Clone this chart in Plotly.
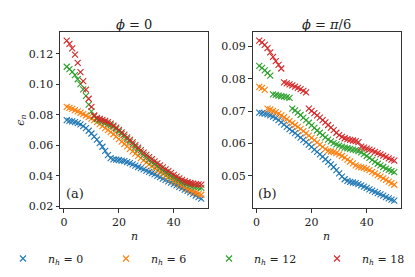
import plotly.graph_objects as go

n = list(range(1, 51))

# phi = 0 panel
a_nh0 = [0.0765, 0.0760, 0.0757, 0.0752, 0.0745, 0.0737, 0.0726, 0.0712, 0.0695, 0.0677,
         0.0657, 0.0637, 0.0614, 0.0590, 0.0563, 0.0535, 0.0515, 0.0507, 0.0505, 0.0503,
         0.0499, 0.0495, 0.0489, 0.0482, 0.0474, 0.0466, 0.0457, 0.0449, 0.0441, 0.0433,
         0.0425, 0.0417, 0.0408, 0.0399, 0.0390, 0.0381, 0.0372, 0.0363, 0.0354, 0.0345,
         0.0336, 0.0327, 0.0318, 0.0309, 0.0300, 0.0290, 0.0280, 0.0270, 0.0260, 0.0250]
a_nh6 = [0.0852, 0.0845, 0.0838, 0.0830, 0.0822, 0.0813, 0.0804, 0.0795, 0.0785, 0.0775,
         0.0765, 0.0752, 0.0738, 0.0725, 0.0712, 0.0699, 0.0686, 0.0672, 0.0656, 0.0640,
         0.0624, 0.0608, 0.0592, 0.0576, 0.0560, 0.0545, 0.0530, 0.0515, 0.0501, 0.0487,
         0.0474, 0.0461, 0.0449, 0.0437, 0.0425, 0.0413, 0.0401, 0.0389, 0.0377, 0.0365,
         0.0354, 0.0343, 0.0333, 0.0323, 0.0313, 0.0304, 0.0296, 0.0288, 0.0281, 0.0275]
a_nh12 = [0.1115, 0.1100, 0.1082, 0.1060, 0.1033, 0.1001, 0.0966, 0.0924, 0.0866, 0.0822,
          0.0790, 0.0772, 0.0762, 0.0755, 0.0748, 0.0740, 0.0731, 0.0720, 0.0706, 0.0690,
          0.0674, 0.0657, 0.0640, 0.0623, 0.0606, 0.0589, 0.0572, 0.0553, 0.0536, 0.0520,
          0.0505, 0.0491, 0.0477, 0.0463, 0.0450, 0.0437, 0.0424, 0.0412, 0.0400, 0.0389,
          0.0378, 0.0368, 0.0359, 0.0351, 0.0344, 0.0338, 0.0333, 0.0328, 0.0324, 0.0320]
a_nh18 = [0.1287, 0.1265, 0.1235, 0.1195, 0.1140, 0.1080, 0.1020, 0.0965, 0.0905, 0.0852,
          0.0795, 0.0780, 0.0772, 0.0766, 0.0759, 0.0751, 0.0741, 0.0729, 0.0715, 0.0700,
          0.0685, 0.0669, 0.0652, 0.0635, 0.0618, 0.0601, 0.0584, 0.0568, 0.0552, 0.0537,
          0.0522, 0.0508, 0.0494, 0.0481, 0.0468, 0.0455, 0.0442, 0.0430, 0.0418, 0.0406,
          0.0394, 0.0383, 0.0373, 0.0364, 0.0357, 0.0352, 0.0348, 0.0345, 0.0343, 0.0342]

# phi = pi/6 panel
b_nh0 = [0.0695, 0.0694, 0.0692, 0.0690, 0.0687, 0.0683, 0.0678, 0.0672, 0.0665, 0.0658,
         0.0651, 0.0644, 0.0638, 0.0632, 0.0625, 0.0618, 0.0611, 0.0604, 0.0596, 0.0589,
         0.0581, 0.0574, 0.0566, 0.0559, 0.0551, 0.0543, 0.0535, 0.0527, 0.0517, 0.0507,
         0.0497, 0.0489, 0.0484, 0.0481, 0.0479, 0.0477, 0.0474, 0.0470, 0.0466, 0.0462,
         0.0458, 0.0454, 0.0450, 0.0446, 0.0442, 0.0438, 0.0434, 0.0430, 0.0426, 0.0423]
b_nh6 = [0.0775, 0.0772, 0.0766, 0.0708, 0.0705, 0.0701, 0.0697, 0.0692, 0.0687, 0.0681,
         0.0675, 0.0669, 0.0663, 0.0657, 0.0651, 0.0645, 0.0638, 0.0631, 0.0624, 0.0617,
         0.0610, 0.0603, 0.0596, 0.0589, 0.0582, 0.0577, 0.0575, 0.0573, 0.0570, 0.0566,
         0.0561, 0.0556, 0.0550, 0.0544, 0.0538, 0.0532, 0.0528, 0.0526, 0.0524, 0.0521,
         0.0517, 0.0512, 0.0507, 0.0502, 0.0497, 0.0492, 0.0487, 0.0482, 0.0477, 0.0472]
b_nh12 = [0.0840, 0.0834, 0.0826, 0.0818, 0.0810, 0.0752, 0.0750, 0.0748, 0.0746, 0.0745,
          0.0743, 0.0741, 0.0708, 0.0702, 0.0695, 0.0688, 0.0680, 0.0672, 0.0664, 0.0656,
          0.0648, 0.0640, 0.0633, 0.0626, 0.0619, 0.0612, 0.0606, 0.0601, 0.0597, 0.0593,
          0.0590, 0.0587, 0.0585, 0.0583, 0.0581, 0.0579, 0.0576, 0.0572, 0.0567, 0.0561,
          0.0555, 0.0549, 0.0543, 0.0537, 0.0532, 0.0527, 0.0522, 0.0518, 0.0514, 0.0511]
b_nh18 = [0.0918, 0.0913, 0.0905, 0.0895, 0.0882, 0.0868, 0.0855, 0.0843, 0.0832, 0.0789,
          0.0786, 0.0783, 0.0780, 0.0776, 0.0772, 0.0768, 0.0763, 0.0758, 0.0708, 0.0701,
          0.0694, 0.0687, 0.0680, 0.0672, 0.0665, 0.0657, 0.0649, 0.0641, 0.0633, 0.0626,
          0.0620, 0.0616, 0.0613, 0.0611, 0.0609, 0.0607, 0.0604, 0.0590, 0.0587, 0.0584,
          0.0581, 0.0578, 0.0574, 0.0570, 0.0566, 0.0562, 0.0558, 0.0554, 0.0550, 0.0547]

series_names = ["<i>n<sub>h</sub></i> = 0", "<i>n<sub>h</sub></i> = 6",
                "<i>n<sub>h</sub></i> = 12", "<i>n<sub>h</sub></i> = 18"]
colors = ["#1f77b4", "#ff7f0e", "#2ca02c", "#d62728"]
panel_a = [a_nh0, a_nh6, a_nh12, a_nh18]
panel_b = [b_nh0, b_nh6, b_nh12, b_nh18]
titles = ["<i>ϕ</i> = 0", "<i>ϕ</i> = <i>π</i>/6"]
panel_labels = ["(a)", "(b)"]
x_ticks = [0, 20, 40]
a_yticks = [0.02, 0.04, 0.06, 0.08, 0.10, 0.12]
b_yticks = [0.05, 0.06, 0.07, 0.08, 0.09]

FONT = "DejaVu Serif"
TXT = "#222"
W, H = 415, 277
ML, MR, MT, MB = 60, 0, 32, 69
PW, PH = W - ML - MR, H - MT - MB


def px_x(p):
    return (p - ML) / PW


def px_y(p):
    return (H - MB - p) / PH


legend_ids = ["legend", "legend2", "legend3", "legend4"]
legend_left_px = [-2, 101, 204, 312]

fig = go.Figure()
for i in range(4):
    mk = dict(symbol="x-thin", size=6, color=colors[i],
              line=dict(width=1.1, color=colors[i]))
    fig.add_trace(go.Scatter(x=n, y=panel_a[i], mode="markers", marker=mk,
                             name=series_names[i], xaxis="x", yaxis="y",
                             legend=legend_ids[i], legendgroup=str(i), showlegend=True))
    fig.add_trace(go.Scatter(x=n, y=panel_b[i], mode="markers", marker=mk,
                             name=series_names[i], xaxis="x2", yaxis="y2",
                             legend=legend_ids[i], legendgroup=str(i), showlegend=False))

axis_common = dict(showline=True, mirror=True, linecolor="#333", linewidth=1,
                   ticks="outside", ticklen=3.5, tickwidth=1, tickcolor="#333",
                   showgrid=False, zeroline=False,
                   tickfont=dict(family=FONT, size=11, color=TXT))

fig.update_layout(
    width=W, height=H,
    margin=dict(l=ML, r=MR, t=MT, b=MB, autoexpand=False),
    paper_bgcolor="white", plot_bgcolor="white",
    font=dict(family=FONT, size=11, color=TXT),
    xaxis=dict(domain=[0, px_x(208)], range=[-1.45, 52.45], tickvals=x_ticks, **axis_common),
    yaxis=dict(range=[0.0188, 0.1343], tickvals=a_yticks, tickformat=".2f", **axis_common),
    xaxis2=dict(domain=[px_x(252.5), px_x(401)], range=[-1.45, 52.45], tickvals=x_ticks,
                anchor="y2", **axis_common),
    yaxis2=dict(range=[0.0400, 0.0945], tickvals=b_yticks, tickformat=".2f",
                anchor="x2", **axis_common),
    showlegend=True,
)
for i, lid in enumerate(legend_ids):
    fig.update_layout({lid: dict(orientation="h", x=px_x(legend_left_px[i]), xanchor="left",
                                 y=px_y(258.5), yanchor="middle", itemwidth=40, borderwidth=0,
                                 font=dict(family=FONT, size=11, color=TXT),
                                 bgcolor="rgba(0,0,0,0)")})

annotations = []
centers_px = [134, 326.7]
for k in range(2):
    annotations.append(dict(text=titles[k], x=px_x(centers_px[k]), y=px_y(24), xref="paper",
                            yref="paper", xanchor="center", yanchor="middle", showarrow=False,
                            font=dict(family=FONT, size=13, color=TXT)))
    annotations.append(dict(text="<i>n</i>", x=px_x(centers_px[k]), y=px_y(236.5), xref="paper",
                            yref="paper", xanchor="center", yanchor="middle", showarrow=False,
                            font=dict(family=FONT, size=11, color=TXT)))
annotations.append(dict(text=panel_labels[0], x=px_x(64), y=px_y(193), xref="paper", yref="paper",
                        xanchor="left", yanchor="middle", showarrow=False,
                        font=dict(family=FONT, size=13, color=TXT)))
annotations.append(dict(text=panel_labels[1], x=px_x(256), y=px_y(193), xref="paper", yref="paper",
                        xanchor="left", yanchor="middle", showarrow=False,
                        font=dict(family=FONT, size=13, color=TXT)))
annotations.append(dict(text="<i>ϵ<sub>n</sub></i>", x=px_x(20.7), y=px_y(120), xref="paper",
                        yref="paper", xanchor="center", yanchor="middle", textangle=-90,
                        showarrow=False, font=dict(family=FONT, size=11, color=TXT)))
fig.update_layout(annotations=annotations)

fig.write_html("out.html", config={"displayModeBar": False},
               post_script="document.body.style.margin='0px';")
